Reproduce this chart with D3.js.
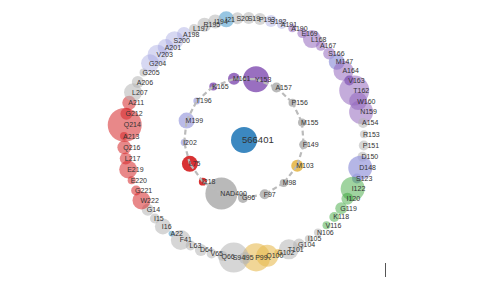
<!DOCTYPE html>
<html>
<head>
<meta charset="utf-8">
<script src="https://cdn.jsdelivr.net/npm/d3@7.9.0/dist/d3.min.js"></script>
<style>
  body { margin: 0; background: #fff; }
  svg text { font-family: "Liberation Sans", Arial, sans-serif; fill: #333; }
</style>
</head>
<body>
<svg id="chart" width="500" height="281"></svg>
<script>
// ligand in the middle
const centerName = "566401";

// inner ring: contacting residues, clockwise from top
const innerNames = ["M161", "Y153", "A157", "P156", "M155", "F149", "M103", "M98", "F97",
  "G96", "NAD400", "I218", "L75", "I202", "M199", "T196", "K165"];
const innerGroups = ["purple", "purple", "gray", "gray", "gray", "gray", "orange", "gray", "gray",
  "gray", "gray", "red", "red", "slate", "slate", "slate", "purple"];
const innerValues = [25, 117, 17, 11, 11, 14, 25, 11, 17, 17, 177, 11, 44, 8, 44, 8, 11];

// outer ring: all residues, clockwise from top
const outerNames = ["I21", "S20", "S19", "P193", "S192", "A191", "A190", "E169", "L168", "A167",
  "S166", "M147", "A164", "V163", "T162", "W160", "N159", "A154", "R153", "P151", "D150", "D148",
  "S123", "I122", "I120", "G119", "K118", "V116", "N106", "I105", "G104", "T101", "G102", "Q100",
  "P99", "I95", "S94", "Q66", "V65", "D64", "L63", "F41", "A22", "I16", "I15", "G14", "W222",
  "G221", "E220", "E219", "L217", "Q216", "A213", "Q214", "G212", "A211", "L207", "A206", "G205",
  "G204", "V203", "A201", "S200", "A198", "L197", "R195", "I194"];
const outerGroups = ["blue", "gray", "gray", "gray", "lavender", "lavender", "purple", "purple",
  "purple", "purple", "purple", "slate", "purple", "purpleDark", "purple", "purple", "purple",
  "gray", "gray", "gray", "gray", "slate", "slate", "green", "green", "green", "green", "green",
  "gray", "gray", "gray", "gray", "orange", "orange", "orange", "gray", "gray", "gray", "gray",
  "gray", "gray", "gray", "blue", "gray", "gray", "gray", "red", "red", "red", "red", "red", "red",
  "red", "red", "red", "red", "gray", "gray", "gray", "lavender", "lavender", "lavender",
  "lavender", "lavender", "gray", "gray", "gray"];
const outerValues = [44, 25, 25, 25, 25, 17, 11, 17, 56, 17, 25, 44, 69, 17, 156, 56, 100, 17,
  11, 17, 17, 100, 17, 100, 25, 25, 17, 11, 11, 11, 25, 69, 11, 84, 136, 25, 156, 17, 17, 25, 17,
  69, 6, 44, 17, 25, 56, 17, 11, 56, 25, 34, 11, 200, 25, 34, 56, 25, 11, 56, 69, 44, 56, 34, 17,
  34, 34];

const groupColors = {
  gray: "#b5b5b5", red: "#d62728", purple: "#9467bd", purpleDark: "#7b4fb0",
  lavender: "#9c9ede", slate: "#9c9ede", green: "#2ca02c", orange: "#e7ba52", blue: "#6baed6"
};
const outerOpacity = {
  gray: 0.55, red: 0.55, purple: 0.55, purpleDark: 0.75, lavender: 0.4, slate: 0.75,
  green: 0.45, orange: 0.6, blue: 0.7
};

const width = 500, height = 281;
const cx = 244, cy = 138;
const outerR = 120, innerR = 60;

const svg = d3.select("#chart");

const radius = d3.scaleSqrt().domain([0, 200]).range([0, 17]);

const outerAngle = d3.scaleLinear()
  .domain([0, outerNames.length])
  .range([-8.5, 351.5]);
const innerAngle = d3.scaleLinear()
  .domain([0, innerNames.length])
  .range([-9.6, 350.4]);

const place = (a, r) => {
  const t = a * Math.PI / 180;
  return [cx + r * Math.sin(t), cy - r * Math.cos(t)];
};

const outer = outerNames.map((name, i) => {
  const [x, y] = place(outerAngle(i), outerR);
  return { name, x, y, group: outerGroups[i], r: radius(outerValues[i]) };
});

const inner = innerNames.map((name, i) => {
  const [x, y] = place(innerAngle(i), innerR);
  return { name, x, y, group: innerGroups[i], r: radius(innerValues[i]) };
});

const links = inner.map((d, i) => ({ source: d, target: inner[(i + 1) % inner.length] }));

// outer ring circles
svg.append("g")
  .selectAll("circle")
  .data(outer)
  .join("circle")
  .attr("cx", (d) => d.x)
  .attr("cy", (d) => d.y)
  .attr("r", (d) => d.r)
  .attr("fill", (d) => groupColors[d.group])
  .attr("fill-opacity", (d) => outerOpacity[d.group]);

// inner ring circles
svg.append("g")
  .selectAll("circle")
  .data(inner)
  .join("circle")
  .attr("cx", (d) => d.x)
  .attr("cy", (d) => d.y)
  .attr("r", (d) => d.r)
  .attr("fill", (d) => groupColors[d.group])
  .attr("fill-opacity", (d) => (d.group === "slate" ? 0.7 : 0.95));

// dashed links between neighbours of the inner ring
svg.append("g")
  .selectAll("line")
  .data(links)
  .join("line")
  .attr("x1", (d) => d.source.x)
  .attr("y1", (d) => d.source.y)
  .attr("x2", (d) => d.target.x)
  .attr("y2", (d) => d.target.y)
  .attr("stroke", "#bbb")
  .attr("stroke-width", 2.2)
  .attr("stroke-dasharray", "5,3");

// centre ligand
svg.append("circle")
  .attr("cx", cx)
  .attr("cy", cy + 2)
  .attr("r", 13)
  .attr("fill", "#3182bd")
  .attr("fill-opacity", 0.95);

svg.append("text")
  .attr("x", cx - 2)
  .attr("y", cy + 2)
  .attr("dy", "0.35em")
  .style("font-size", "9.5px")
  .text(centerName);

// labels
svg.append("g")
  .selectAll("text")
  .data(outer.concat(inner))
  .join("text")
  .attr("x", (d) => d.x - 1)
  .attr("y", (d) => d.y)
  .attr("dy", "0.35em")
  .style("font-size", "7px")
  .text((d) => d.name);

// small mark at bottom right
svg.append("line")
  .attr("x1", 385.5)
  .attr("x2", 385.5)
  .attr("y1", 263)
  .attr("y2", 277)
  .attr("stroke", "#555")
  .attr("stroke-width", 1);
</script>
</body>
</html>
